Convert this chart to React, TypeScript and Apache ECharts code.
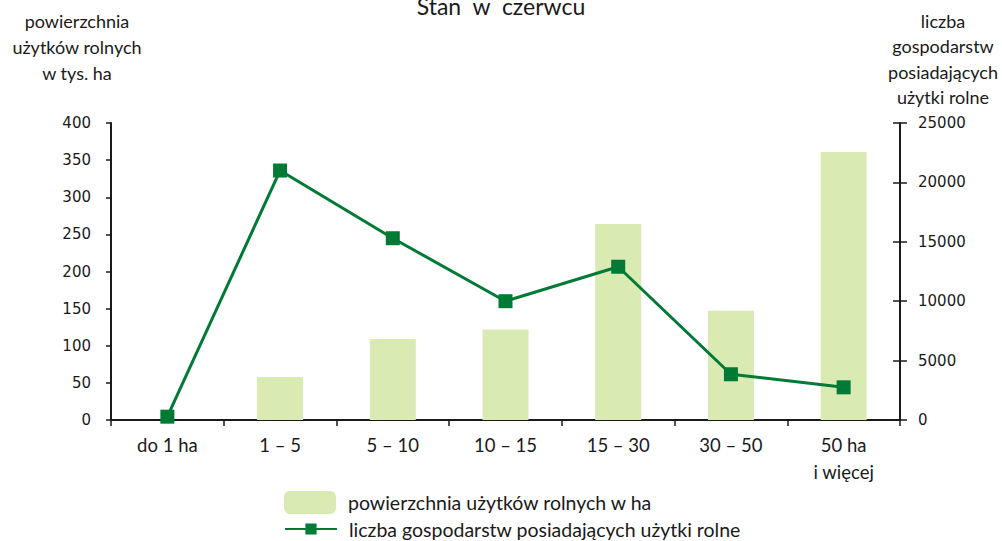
import React, { useEffect, useRef } from "react";
import * as echarts from "echarts";

const categories = ["do 1 ha", "1 – 5", "5 – 10", "10 – 15", "15 – 30", "30 – 50", "50 ha\ni więcej"];
const areaValues = [0, 58, 109, 122, 264, 147, 361];
const farmCounts = [280, 21000, 15300, 10000, 12900, 3850, 2750];
const leftTicks = { min: 0, max: 400, interval: 50 };
const rightTicks = { min: 0, max: 25000, interval: 5000 };
const barName = "powierzchnia użytków rolnych w ha";
const lineName = "liczba gospodarstw posiadających użytki rolne";
const titleText = "Stan  w  czerwcu";
const leftAxisName = "powierzchnia\nużytków rolnych\nw tys. ha";
const rightAxisName = "liczba\ngospodarstw\nposiadających\nużytki rolne";

const BAR = "#d9eab3";
const LINE = "#007a35";
const AXIS = "#1a1a1a";
const LABEL_FONT = "Lato, 'Open Sans', sans-serif";
const TICK_FONT = "'DejaVu Sans', Verdana, sans-serif";

export default function App() {
  const ref = useRef<HTMLDivElement>(null);
  useEffect(() => {
    if (!ref.current) return;
    const chart = echarts.init(ref.current, undefined, { renderer: "svg" });
    chart.setOption({
      animation: false,
      backgroundColor: "#ffffff",
      grid: { left: 111, right: 102, top: 123, bottom: 121, containLabel: false },
      graphic: [
        {
          type: "text",
          x: 501,
          y: -6,
          style: { text: titleText, font: `23px ${LABEL_FONT}`, fill: "#1a1a1a", align: "center" },
        },
        {
          type: "text",
          x: 77,
          y: 8,
          style: {
            text: leftAxisName,
            font: `18px ${LABEL_FONT}`,
            fill: "#1a1a1a",
            align: "center",
            lineHeight: 26,
          },
        },
        {
          type: "text",
          x: 943,
          y: 8,
          style: {
            text: rightAxisName,
            font: `18px ${LABEL_FONT}`,
            fill: "#1a1a1a",
            align: "center",
            lineHeight: 25.5,
          },
        },
      ],
      legend: [
        {
          data: [barName],
          orient: "vertical",
          left: 279,
          top: 486,
          itemWidth: 52,
          itemHeight: 23,
          textStyle: { fontFamily: LABEL_FONT, fontSize: 19.5, color: "#1a1a1a", padding: [0, 0, 0, 7] },
        },
        {
          data: [lineName],
          orient: "vertical",
          left: 279,
          top: 514,
          itemWidth: 52,
          itemHeight: 14,
          textStyle: { fontFamily: LABEL_FONT, fontSize: 19.5, color: "#1a1a1a", padding: [0, 0, 0, 7] },
        },
      ],
      xAxis: {
        type: "category",
        data: categories,
        axisLine: { lineStyle: { color: AXIS, width: 2 } },
        axisTick: { show: true, length: 6, lineStyle: { color: AXIS, width: 1.5 } },
        axisLabel: {
          fontFamily: LABEL_FONT,
          fontSize: 18.5,
          color: "#1a1a1a",
          margin: 11,
          lineHeight: 27,
          interval: 0,
        },
      },
      yAxis: [
        {
          type: "value",
          position: "left",
          min: leftTicks.min,
          max: leftTicks.max,
          interval: leftTicks.interval,
          splitLine: { show: false },
          axisLine: { show: true, lineStyle: { color: AXIS, width: 2 } },
          axisTick: { show: true, length: 5, lineStyle: { color: AXIS, width: 1.5 } },
          axisLabel: { fontFamily: TICK_FONT, fontSize: 15, color: "#1a1a1a", margin: 20 },
        },
        {
          type: "value",
          position: "right",
          min: rightTicks.min,
          max: rightTicks.max,
          interval: rightTicks.interval,
          splitLine: { show: false },
          axisLine: { show: true, lineStyle: { color: AXIS, width: 2 } },
          axisTick: { show: true, length: 7, lineStyle: { color: AXIS, width: 1.5 } },
          axisLabel: {
            fontFamily: TICK_FONT,
            fontSize: 15,
            color: "#1a1a1a",
            margin: 18,
            formatter: (v: number) => String(v),
          },
        },
        {
          type: "value",
          position: "right",
          min: rightTicks.min,
          max: rightTicks.max,
          interval: rightTicks.interval,
          splitLine: { show: false },
          axisLine: { show: false },
          axisTick: { show: true, inside: true, length: 7, lineStyle: { color: AXIS, width: 1.5 } },
          axisLabel: { show: false },
        },
      ],
      series: [
        {
          name: barName,
          type: "bar",
          yAxisIndex: 0,
          data: areaValues,
          barWidth: 46,
          itemStyle: { color: BAR },
        },
        {
          name: lineName,
          type: "line",
          yAxisIndex: 1,
          data: farmCounts,
          symbol: "rect",
          symbolSize: 14,
          lineStyle: { color: LINE, width: 3 },
          itemStyle: { color: LINE },
          z: 3,
        },
      ],
    });
    return () => chart.dispose();
  }, []);
  return <div ref={ref} style={{ width: 1002, height: 541, position: "absolute", left: 0, top: 0 }} />;
}
